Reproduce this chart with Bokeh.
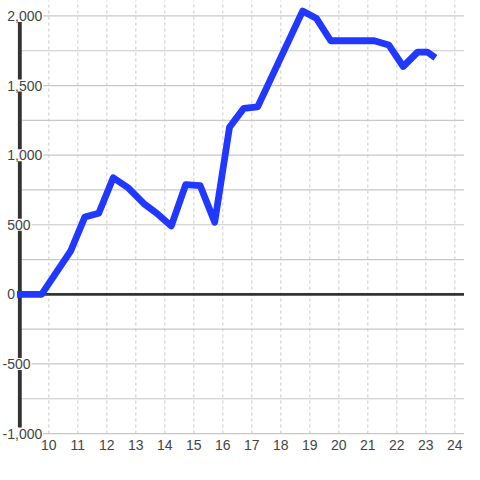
from bokeh.plotting import figure
from bokeh.models import Range1d, ColumnDataSource
from bokeh.core.properties import value
from bokeh.embed import file_html
from bokeh.resources import INLINE

# ---- data ----
x_vals = [8.9, 9.75, 10.75, 11.24, 11.72, 12.22, 12.72, 13.27, 13.72, 14.22, 14.72,
          15.22, 15.72, 16.23, 16.72, 17.2, 18.75, 19.22, 19.72, 21.22, 21.72,
          22.22, 22.72, 23.05, 23.33]
y_vals = [0, 0, 310, 555, 583, 838, 768, 653, 583, 491, 788,
          781, 518, 1201, 1336, 1347, 2035, 1984, 1822, 1822, 1792,
          1637, 1741, 1741, 1699]
x_ticks = [10, 11, 12, 13, 14, 15, 16, 17, 18, 19, 20, 21, 22, 23, 24]
x_tick_labels = [str(t) for t in x_ticks]
y_grid = [-1000, -750, -500, -250, 250, 500, 750, 1000, 1250, 1500, 1750, 2000]
y_ticks = [2000, 1500, 1000, 500, 0, -500, -1000]
y_tick_labels = ["2,000", "1,500", "1,000", "500", "0", "-500", "-1,000"]

# ---- layout ----
W = 464
S = W / 480.0
X0, X1 = 8.3333, 24.3333
Y0, Y1 = -1222.2, 2111.1
AXIS_X = 9.0
LABEL_X = 8.533
XLABEL_Y = -1083
FONT = "Liberation Sans"
FS = 14.5 * S

p = figure(width=W, height=W, output_backend="svg", toolbar_location=None,
           x_range=Range1d(X0, X1), y_range=Range1d(Y0, Y1),
           min_border=0, min_border_left=0, min_border_right=0,
           min_border_top=0, min_border_bottom=0)
p.axis.visible = False
p.grid.visible = False
p.outline_line_color = None
p.background_fill_color = "white"
p.border_fill_color = "white"

# vertical dotted grid
p.segment(x0=x_ticks, x1=x_ticks, y0=[-1000] * len(x_ticks), y1=[3000] * len(x_ticks),
          line_color="#c8c8c8", line_width=1, line_dash="3 3")
# horizontal grid
p.segment(x0=[AXIS_X] * len(y_grid), x1=[30] * len(y_grid), y0=y_grid, y1=y_grid,
          line_color="#c8c8c8", line_width=1.2)
# zero line
p.segment(x0=[AXIS_X], x1=[30], y0=[0], y1=[0], line_color="#333333", line_width=3 * S)
# y axis line
p.segment(x0=[AXIS_X], x1=[AXIS_X], y0=[-1000], y1=[2000], line_color="#333333",
          line_width=4 * S)

# data line
p.line(x_vals, y_vals, line_color="#2038ff", line_width=7 * S,
       line_join="round", line_cap="butt")

# y tick labels (left aligned, minus sign hanging left)
offs = [-0.333 * FS if s.startswith("-") else 0 for s in y_tick_labels]
ysrc = ColumnDataSource(dict(x=[LABEL_X] * len(y_ticks), y=y_ticks,
                             t=y_tick_labels, o=offs))
p.text(x="x", y="y", text="t", x_offset="o", source=ysrc,
       text_font=value(FONT), text_font_size=f"{FS:.1f}px", text_color="#444444",
       text_align="left", text_baseline="middle",
       background_fill_color="white", padding=1)

# x tick labels
p.text(x=x_ticks, y=[XLABEL_Y] * len(x_ticks), text=x_tick_labels,
       text_font=value(FONT), text_font_size=f"{FS:.1f}px", text_color="#444444",
       text_align="center", text_baseline="middle")

open("out.html", "w").write(file_html(p, INLINE))
